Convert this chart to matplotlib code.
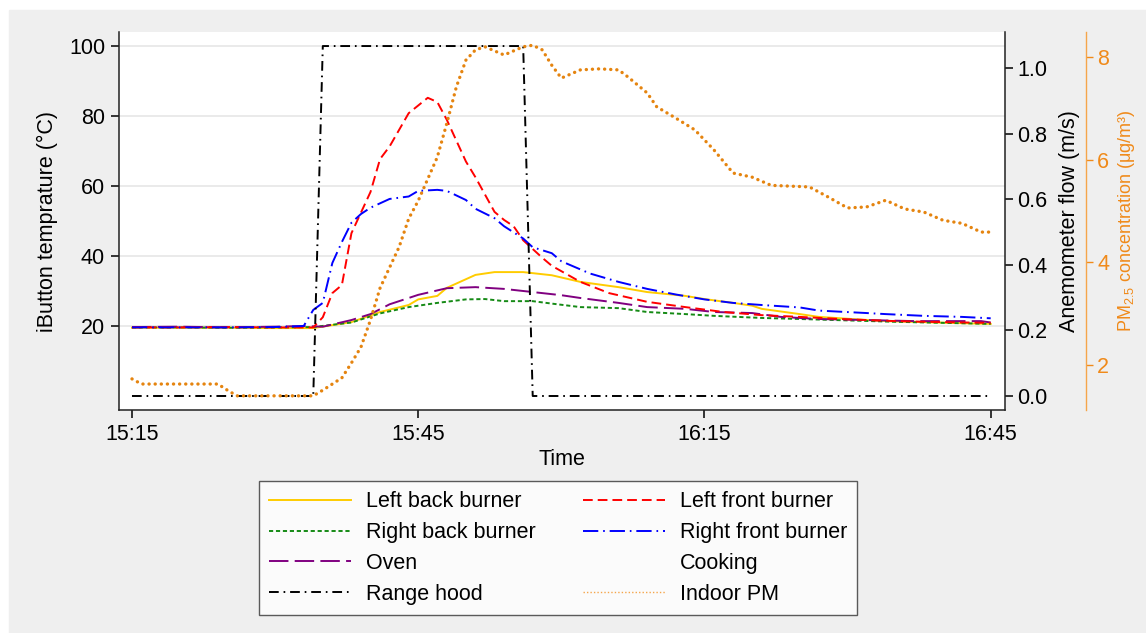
import matplotlib
matplotlib.use("Agg")
import matplotlib.pyplot as plt
from matplotlib.lines import Line2D
from matplotlib.patches import Rectangle

# minutes after 15:15
time_ticks = [0, 30, 60, 90]
time_labels = ["15:15", "15:45", "16:15", "16:45"]

lbb_t = [0, 5, 10, 15, 19, 23, 26, 29, 30, 32, 33, 36, 38, 41, 44, 47, 51, 54, 58, 60, 63, 65, 66, 70, 72, 76, 79, 83, 87, 90]
lbb_v = [19.5, 19.5, 19.5, 19.4, 19.4, 21.1, 24.0, 26.0, 27.6, 28.6, 30.9, 34.6, 35.4, 35.4, 34.5, 32.6, 31.1, 29.7, 28.6, 27.7, 26.6, 25.8, 24.9, 23.4, 22.6, 21.9, 21.4, 21.1, 20.8, 20.6]

rbb_t = [0, 5, 10, 15, 19, 23, 26, 29, 32, 35, 37, 39, 42, 44, 47, 51, 54, 58, 61, 66, 70, 75, 80, 85, 90]
rbb_v = [19.6, 19.6, 19.5, 19.6, 19.7, 21.0, 23.6, 25.4, 26.6, 27.6, 27.7, 27.1, 27.1, 26.4, 25.4, 25.1, 24.0, 23.4, 22.9, 22.3, 22.0, 21.6, 21.2, 20.9, 20.6]

oven_t = [0, 5, 10, 15, 18, 20, 23, 25, 27, 30, 33, 36, 39, 42, 45, 47, 51, 54, 58, 61, 65, 68, 72, 77, 82, 87, 89, 90]
oven_v = [19.7, 19.8, 19.6, 19.8, 20.0, 19.8, 21.7, 23.4, 26.2, 28.9, 30.8, 31.1, 30.6, 29.7, 28.8, 28.0, 26.6, 25.4, 24.9, 24.0, 23.7, 22.6, 22.0, 21.7, 21.4, 21.4, 21.4, 21.0]

lfb_t = [0, 5, 10, 15, 19, 20, 21, 22, 23, 25, 26, 27, 29, 31, 32, 33, 35, 36, 38, 39, 40, 41, 42, 43, 44, 47, 50, 54, 58, 62, 66, 70, 75, 80, 85, 90]
lfb_v = [19.6, 19.6, 19.7, 19.6, 19.6, 22.5, 29.4, 31.7, 46.5, 58.3, 67.7, 71.3, 80.8, 85.2, 84.0, 78.9, 67.0, 62.5, 52.6, 50.3, 48.5, 44.5, 42.0, 39.5, 37.2, 32.6, 29.4, 26.9, 25.4, 24.0, 23.1, 22.6, 21.9, 21.4, 21.1, 20.9]

rfb_t = [0, 5, 10, 15, 18, 19, 20, 21, 22, 23, 24, 25, 27, 29, 30, 32, 33, 35, 36, 38, 39, 41, 42, 44, 45, 48, 51, 54, 57, 60, 63, 66, 70, 72, 77, 79, 83, 87, 90]
rfb_v = [19.6, 19.6, 19.6, 19.7, 20.0, 24.6, 26.6, 38.0, 44.0, 49.5, 52.0, 53.8, 56.3, 57.0, 58.6, 58.9, 58.6, 56.0, 53.5, 50.8, 48.5, 45.0, 42.5, 40.8, 38.5, 35.0, 32.6, 30.6, 29.0, 27.6, 26.6, 26.0, 25.3, 24.4, 23.7, 23.4, 22.9, 22.6, 22.2]

hood_t = [0, 19, 20, 41, 42, 90]
hood_v = [0, 0, 1.067, 1.067, 0, 0]

pm_t = [0, 1, 9, 10, 11, 19, 20, 22, 23, 24, 25, 26, 28, 29, 30, 32, 33, 34, 35, 36, 37, 39, 41, 42, 43, 44, 45, 47, 49, 51, 52, 54, 55, 57, 59, 61, 63, 65, 67, 71, 73, 75, 77, 79, 81, 83, 85, 87, 89, 90]
pm_v = [1.73, 1.63, 1.63, 1.51, 1.40, 1.40, 1.51, 1.75, 2.04, 2.35, 2.88, 3.5, 4.3, 4.85, 5.2, 6.05, 6.71, 7.42, 7.94, 8.14, 8.2, 8.04, 8.2, 8.23, 8.14, 7.84, 7.59, 7.75, 7.77, 7.75, 7.61, 7.3, 7.03, 6.81, 6.58, 6.19, 5.74, 5.66, 5.5, 5.47, 5.27, 5.06, 5.08, 5.21, 5.04, 4.98, 4.82, 4.76, 4.59, 4.59]

plt.rcParams["font.family"] = ["Liberation Sans", "DejaVu Sans"]
plt.rcParams["mathtext.fontset"] = "custom"
plt.rcParams["mathtext.rm"] = "Liberation Sans"
plt.rcParams["mathtext.default"] = "regular"
plt.rcParams["lines.scale_dashes"] = False

W, H = 1146, 633
fig = plt.figure(figsize=(W / 100, H / 100), dpi=100)
fig.add_artist(Rectangle((9 / W, 0), 1, 1 - 10 / H, transform=fig.transFigure,
                         color="#efefef", zorder=-10))

ax = fig.add_axes([119 / W, 1 - 410 / H, 886 / W, 378 / H])
ax.set_facecolor("white")
ax2 = ax.twinx()
ax3 = ax.twinx()

lw = 1.4
pm_col = "#e5840f"
l1, = ax.plot(lbb_t, lbb_v, color="#ffcc00", lw=lw, label="Left back burner")
l2, = ax.plot(rbb_t, rbb_v, color="#158a15", lw=lw, dashes=(3, 2), label="Right back burner")
l3, = ax.plot(oven_t, oven_v, color="#800080", lw=lw, dashes=(14, 4.5), label="Oven")
l5, = ax.plot(lfb_t, lfb_v, color="#ff0000", lw=lw, dashes=(7, 3.6), label="Left front burner")
l6, = ax.plot(rfb_t, rfb_v, color="#0000ff", lw=lw, dashes=(11, 3.5, 1.2, 3.5), label="Right front burner")
l4, = ax2.plot(hood_t, hood_v, color="black", lw=lw, dashes=(7, 3.5, 1.2, 3.5), label="Range hood")
ax3.plot(pm_t, pm_v, color=pm_col, lw=2.4, dashes=(0.1, 4.3), dash_capstyle="round")

cook = Line2D([], [], color="none", label="Cooking")
pm_h = Line2D([], [], color="#f5a54a", lw=1, dashes=(1, 1.5), label="Indoor PM")

ax.set_xlim(-1.36, 91.5)
ax.set_ylim(-4, 104)
ax2.set_ylim(-0.0427, 1.1098)
ax3.set_ylim(1.124, 8.488)

ax.set_xticks(time_ticks)
ax.set_xticklabels(time_labels)
ax.set_yticks([20, 40, 60, 80, 100])
ax2.set_yticks([0, 0.2, 0.4, 0.6, 0.8, 1.0])
ax2.set_yticklabels(["0.0", "0.2", "0.4", "0.6", "0.8", "1.0"])
ax3.set_yticks([2, 4, 6, 8])

ax.yaxis.grid(True, color="#e6e6e6", lw=1.2)
ax.set_axisbelow(True)

for a in (ax, ax2, ax3):
    a.spines["top"].set_visible(False)
ax.spines["right"].set_visible(False)
ax2.spines["left"].set_visible(False)
ax3.spines["left"].set_visible(False)
ax3.spines["bottom"].set_visible(False)
ax2.spines["bottom"].set_visible(False)
for s in ("left", "bottom"):
    ax.spines[s].set_color("#222222")
    ax.spines[s].set_linewidth(1.1)
ax2.spines["right"].set_color("#222222")
ax2.spines["right"].set_linewidth(1.1)
ax3.spines["right"].set_position(("axes", 1.0914))
ax3.spines["right"].set_color("#f5a54a")
ax3.spines["right"].set_linestyle((0, (1, 1)))
ax3.spines["right"].set_linewidth(1.0)

fs = 15.5
ax.tick_params(axis="both", direction="out", length=6, width=1.1, labelsize=fs, pad=4)
ax2.tick_params(axis="y", direction="out", length=6, width=1.1, labelsize=fs, pad=3)
ax3.tick_params(axis="y", direction="out", length=5, width=1.0, labelsize=fs, pad=3,
                colors="#f08a1a")

ax.set_xlabel("Time", fontsize=fs, labelpad=3)
ax.set_ylabel("iButton temprature (°C)", fontsize=fs, labelpad=8)
ax2.set_ylabel("Anemometer flow (m/s)", fontsize=fs, labelpad=8)
ax3.set_ylabel("PM$_{2.5}$ concentration (μg/m³)", fontsize=13, color="#f08a1a", labelpad=5)

leg = fig.legend(handles=[l1, l2, l3, l4, l5, l6, cook, pm_h], ncol=2,
                 loc="center", bbox_to_anchor=(558 / W, 1 - 548 / H),
                 fontsize=fs, frameon=True, fancybox=False, handlelength=3.8,
                 handletextpad=0.7, columnspacing=2.2, labelspacing=0.46,
                 borderpad=0.45)
leg.get_frame().set_edgecolor("#333333")
leg.get_frame().set_linewidth(1.0)

fig.savefig("out.png", dpi=100)
